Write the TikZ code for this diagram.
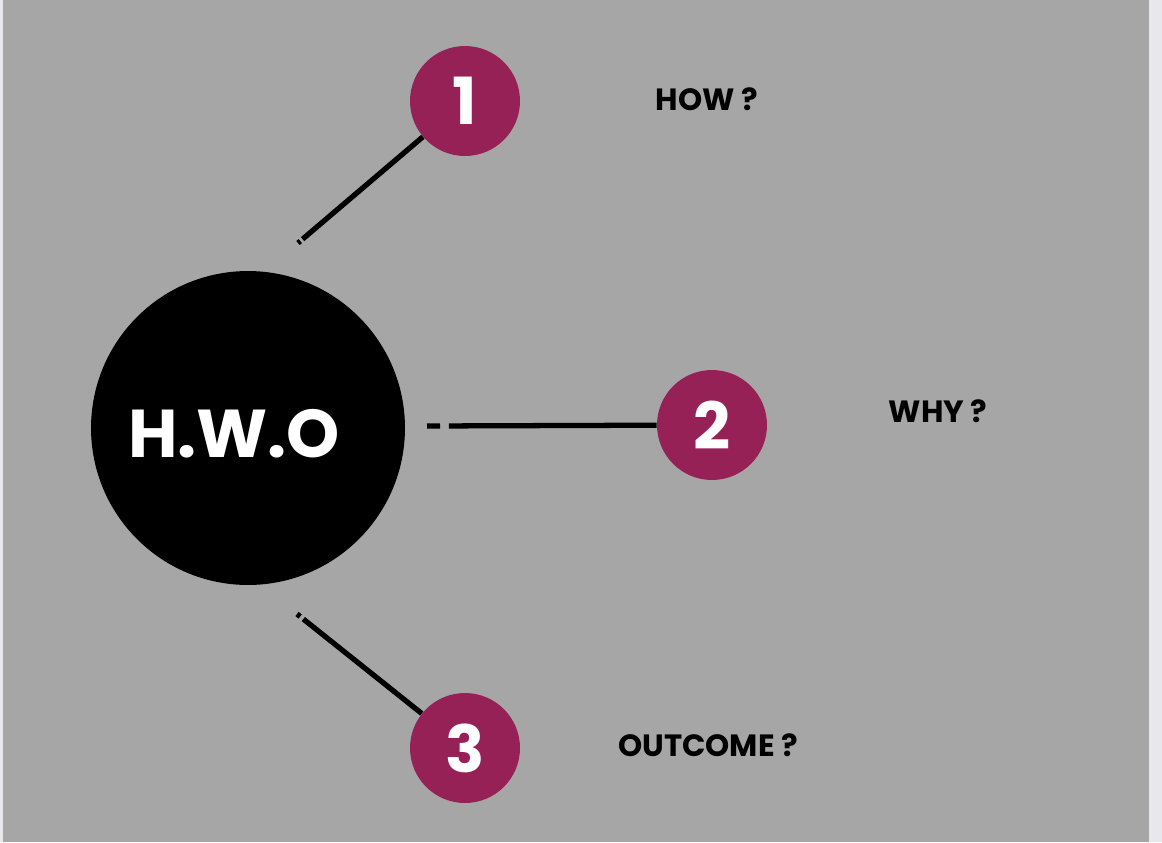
\documentclass[tikz,border=0pt]{standalone}
\usepackage{fontspec}
\setmainfont{Poppins}
\definecolor{hwogray}{RGB}{166,166,166}
\definecolor{hwostrip}{RGB}{232,232,236}
\definecolor{hwomaroon}{RGB}{150,33,86}

\begin{document}
\begin{tikzpicture}[x=0.02cm,y=-0.02cm]
  \tikzstyle{hub}=[circle,fill=black,minimum size=6.28cm,inner sep=0pt]
  \tikzstyle{hubtext}=[text=white,inner sep=0pt,font=\fontsize{38.5}{38.5}\selectfont\bfseries]
  \tikzstyle{num}=[circle,fill=hwomaroon,minimum size=2.2cm,inner sep=0pt,
    text=white,font=\fontsize{37}{37}\selectfont\bfseries]
  \tikzstyle{ask}=[text=black,inner sep=0pt,font=\fontsize{17.5}{17.5}\selectfont\bfseries]
  \tikzstyle{link}=[black,line width=3pt]

  % page and panel
  \fill[hwostrip] (0,0) rectangle (1162,842);
  \fill[hwogray] (3,0) rectangle (1149,842);

  \node[hub] (hwo) at (248,428) {};
  \node[hubtext] (hwolabel) at (234,434) {H.W.O};

  \node[num] (c1) at (465,101) {1};
  \node[num] (c2) at (712,425) {2};
  \node[num] (c3) at (465,748) {3};

  \node[ask] (how) at (707,99)  {HOW ?};
  \node[ask] (why) at (938,411) {WHY ?};
  \node[ask] (out) at (708,745) {OUTCOME ?};

  \coordinate (s1) at (298,243);
  \coordinate (s2) at (427,426);
  \coordinate (s3) at (297,614);

  \draw[link,dash pattern=on 1.7pt off 1.7pt on 300pt off 0pt] (s1) -- (c1);
  \draw[link,dash pattern=on 7.4pt off 5.1pt on 300pt off 0pt] (s2) -- (c2);
  \draw[link,dash pattern=on 2.3pt off 2.3pt on 300pt off 0pt] (s3) -- (c3);
\end{tikzpicture}
\end{document}
